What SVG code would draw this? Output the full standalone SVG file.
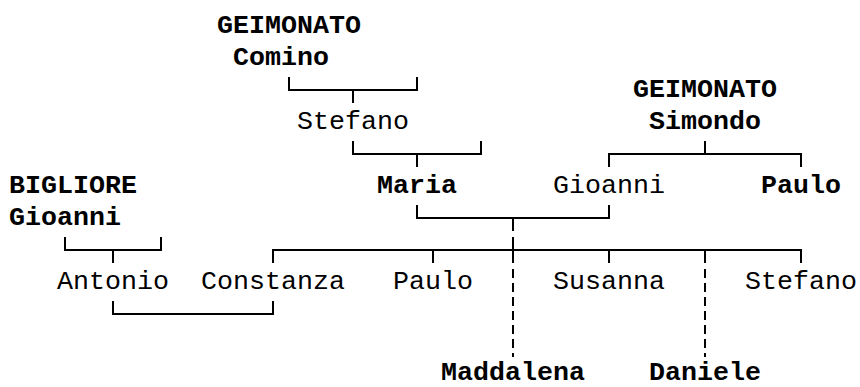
<svg xmlns="http://www.w3.org/2000/svg" width="860" height="387" viewBox="0 0 860 387">
<style>
  .t { font-family: "Liberation Mono", "DejaVu Sans Mono", monospace; font-size: 26.67px; fill: #000; }
  .b { font-weight: bold; }
  .ln { stroke: #000; stroke-width: 2; fill: none; }
  .dash { stroke-dasharray: 9 5; }
</style>
<rect width="860" height="387" fill="#fff"/>
<g id="connectors">
  <path class="ln" d="M289 77 V90 H417 V77 M353 90 V103"/>
  <path class="ln" d="M353 141 V154 H481 V141 M417 154 V167"/>
  <path class="ln" d="M609 167 V154 H801 V167 M705 141 V154"/>
  <path class="ln" d="M417 205 V218 H609 V205 M513 218 V231"/>
  <path class="ln" d="M65 237 V250 H161 V237 M113 250 V263"/>
  <path class="ln" d="M273 263 V250 H801 V263 M433 250 V263 M609 250 V263 M705 250 V263 M513 237 V263"/>
  <path class="ln dash" d="M513 269 V357 M705 269 V357"/>
  <path class="ln" d="M113 301 V314 H273 V301"/>
</g>
<g id="geimonato-comino"><text class="t b" x="217" y="33">GEIMONATO</text><text class="t b" x="233" y="65">Comino</text></g>
<g id="geimonato-simondo"><text class="t b" x="633" y="97">GEIMONATO</text><text class="t b" x="649" y="129">Simondo</text></g>
<g id="stefano-1"><text class="t" x="297" y="129">Stefano</text></g>
<g id="bigliore-gioanni"><text class="t b" x="9" y="193">BIGLIORE</text><text class="t b" x="9" y="225">Gioanni</text></g>
<g id="maria"><text class="t b" x="377" y="193">Maria</text></g>
<g id="gioanni"><text class="t" x="553" y="193">Gioanni</text></g>
<g id="paulo-1"><text class="t b" x="761" y="193">Paulo</text></g>
<g id="antonio"><text class="t" x="57" y="289">Antonio</text></g>
<g id="constanza"><text class="t" x="201" y="289">Constanza</text></g>
<g id="paulo-2"><text class="t" x="393" y="289">Paulo</text></g>
<g id="susanna"><text class="t" x="553" y="289">Susanna</text></g>
<g id="stefano-2"><text class="t" x="745" y="289">Stefano</text></g>
<g id="maddalena"><text class="t b" x="441" y="380">Maddalena</text></g>
<g id="daniele"><text class="t b" x="649" y="380">Daniele</text></g>
</svg>
